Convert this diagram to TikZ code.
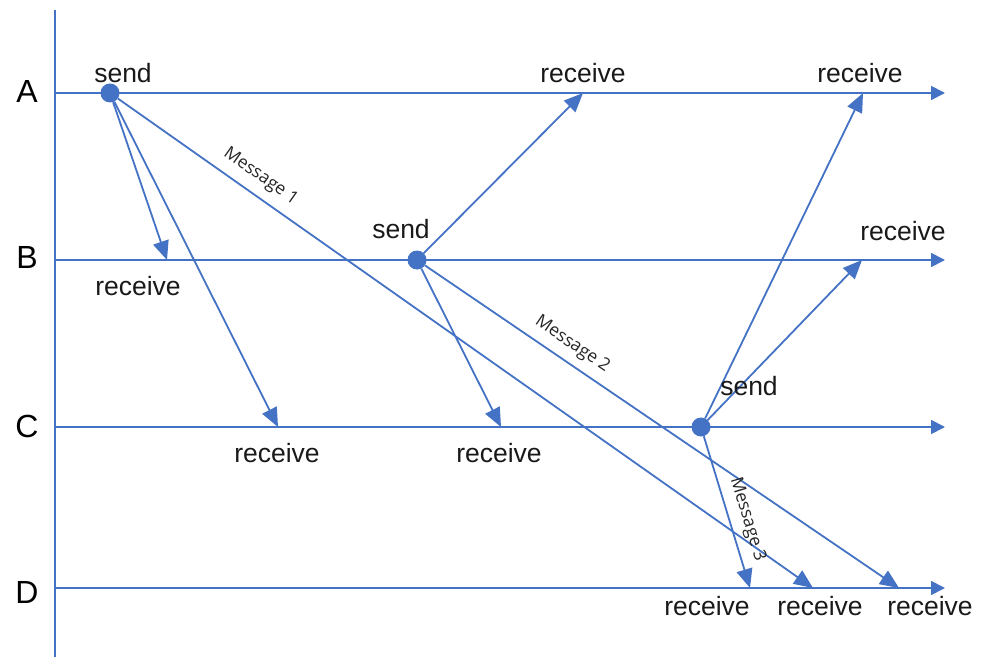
\documentclass[tikz,border=0pt]{standalone}
\usepackage{fontspec}
\setmainfont{Liberation Sans}
\newfontfamily\msgfont{Open Sans}
\usetikzlibrary{arrows.meta}
\definecolor{lineblue}{HTML}{4472C4}
\begin{document}
\begin{tikzpicture}[x=1pt,y=-1pt,
  timeline/.style={draw=lineblue,line width=1.8pt,-{Triangle[length=14pt,width=14pt]}},
  axisline/.style={draw=lineblue,line width=1.8pt},
  msg/.style={draw=lineblue,line width=1.8pt,-{Triangle[length=19pt,width=16pt]}},
  event/.style={circle,fill=lineblue,minimum size=19pt,inner sep=0pt},
  proc/.style={font=\fontsize{32}{32}\selectfont,anchor=base},
  lbl/.style={font=\fontsize{26.5}{26.5}\selectfont,anchor=base,text=black!90},
  msglbl/.style={font=\msgfont\fontsize{17.5}{17.5}\selectfont,sloped,inner sep=1pt,text=black!85}
]
\useasboundingbox (0,0) rectangle (985,658);

% process axis and time lines
\coordinate (axtop) at (55,10);
\coordinate (axbot) at (55,657);
\draw[axisline] (axtop) -- (axbot);
\foreach \n/\y in {A/93,B/260,C/427,D/588}{
  \coordinate (\n0) at (55,\y);
  \coordinate (\n1) at (945,\y);
  \draw[timeline] (\n0) -- (\n1);
}

% process names
\node[proc] (pA) at (27,103) {A};
\node[proc] (pB) at (27,268) {B};
\node[proc] (pC) at (27,437) {C};
\node[proc] (pD) at (27,603) {D};

% send events
\node[event] (sA) at (110,93) {};
\node[event] (sB) at (417,260) {};
\node[event] (sC) at (701,427) {};

% receive points
\coordinate (rAB) at (167,260);
\coordinate (rAC) at (278,427);
\coordinate (rAD) at (813,588);
\coordinate (rBA) at (583,93);
\coordinate (rBC) at (501,427);
\coordinate (rBD) at (899,588);
\coordinate (rCA) at (863,93);
\coordinate (rCB) at (862,260);
\coordinate (rCD) at (750,588);

% messages sent by A
\draw[msg] (sA) -- (rAB);
\draw[msg] (sA) -- (rAC);
\draw[msg] (sA) -- node[msglbl,pos=0.19,above=8pt] (m1) {Message 1} (rAD);

% messages sent by B
\draw[msg] (sB) -- (rBA);
\draw[msg] (sB) -- (rBC);
\draw[msg] (sB) -- node[msglbl,pos=0.29,above=7pt] (m2) {Message 2} (rBD);

% messages sent by C
\draw[msg] (sC) -- (rCA);
\draw[msg] (sC) -- (rCB);
\draw[msg] (sC) -- node[msglbl,pos=0.58,above=7pt] (m3) {Message 3} (rCD);

% event labels
\node[lbl] (tsA) at (123,83) {send};
\node[lbl] (tsB) at (401,238) {send};
\node[lbl] (tsC) at (749,395) {send};
\node[lbl] (tAB) at (138,295) {receive};
\node[lbl] (tBA) at (583,83) {receive};
\node[lbl] (tCA) at (860,83) {receive};
\node[lbl] (tCB) at (903,240) {receive};
\node[lbl] (tAC) at (277,462) {receive};
\node[lbl] (tBC) at (499,462) {receive};
\node[lbl] (tCD) at (707,615) {receive};
\node[lbl] (tAD) at (820,615) {receive};
\node[lbl] (tBD) at (930,615) {receive};
\end{tikzpicture}
\end{document}
